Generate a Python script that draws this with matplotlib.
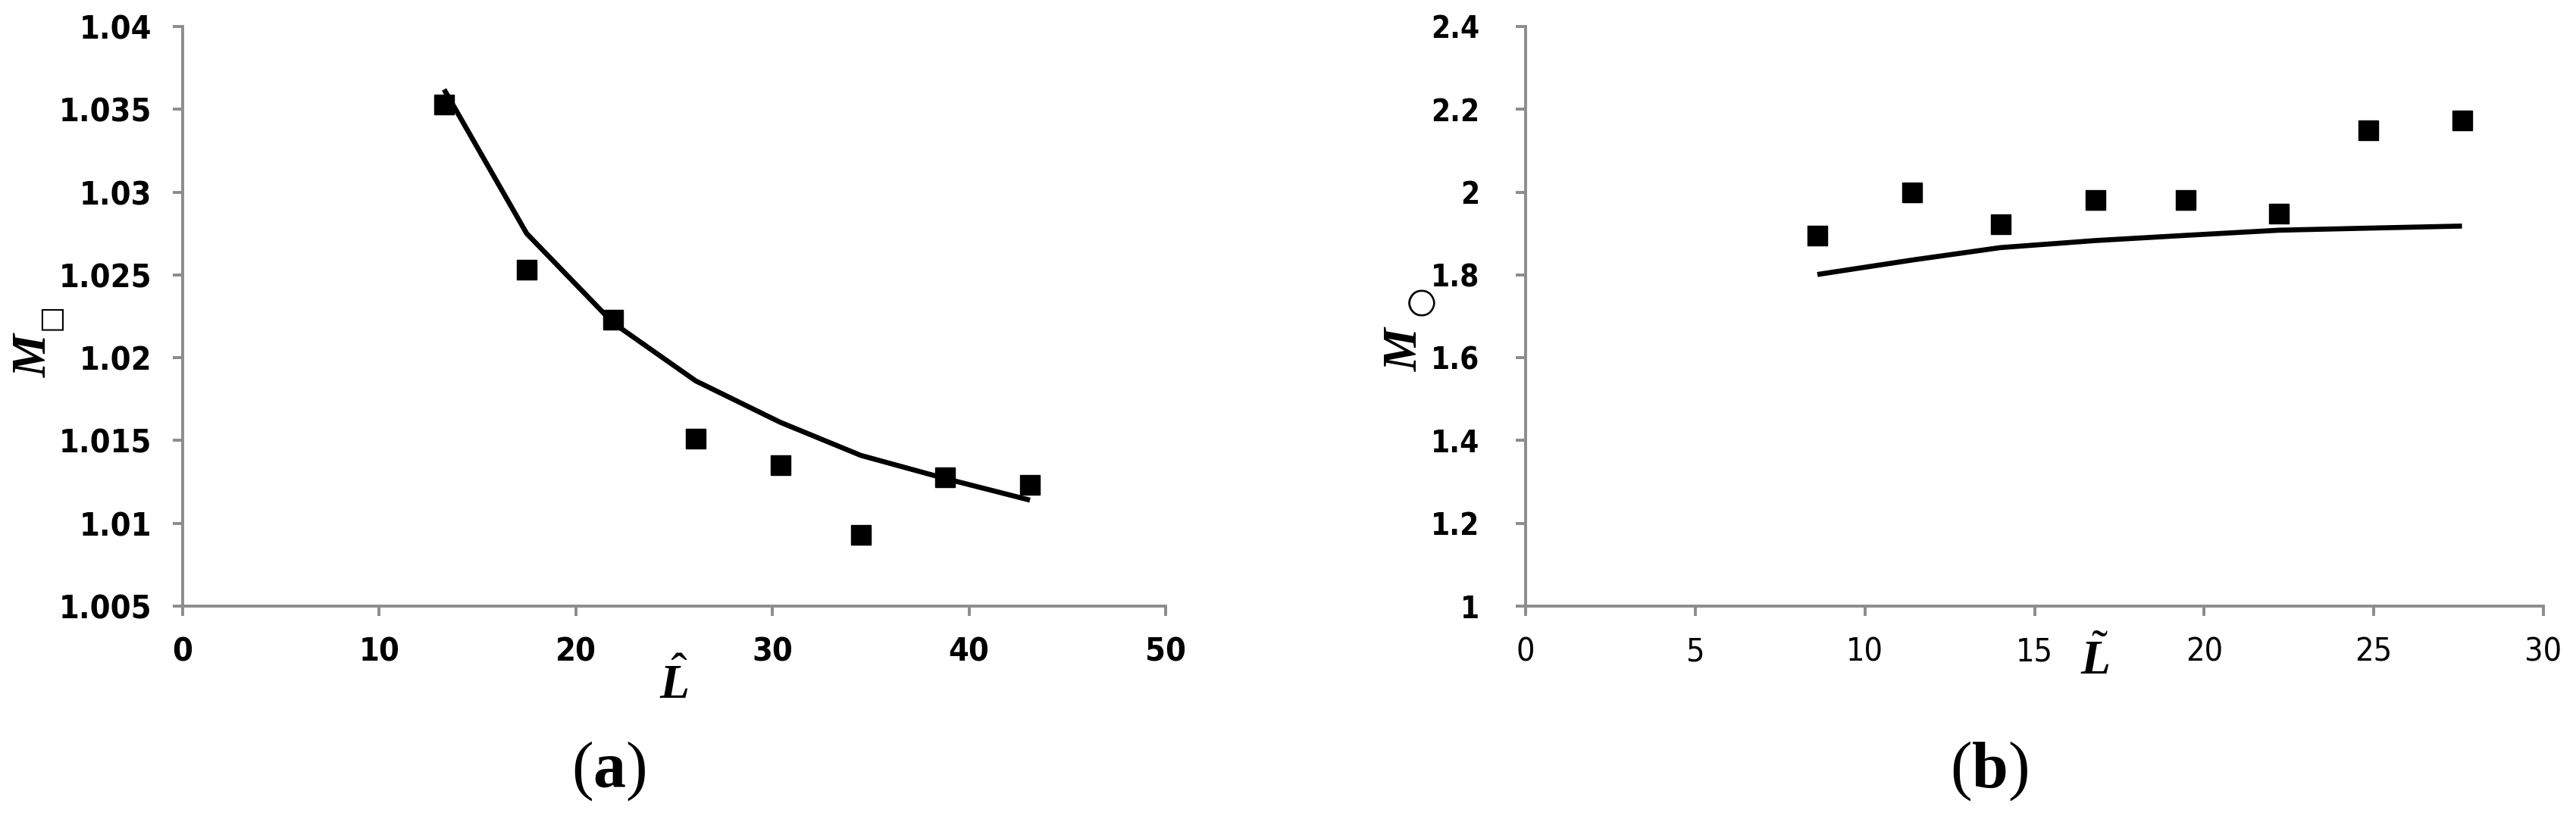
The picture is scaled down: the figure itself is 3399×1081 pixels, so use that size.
import matplotlib
matplotlib.use("Agg")
import matplotlib.pyplot as plt

# ---- data (a) ----
a_exp_x = [13.3, 17.5, 21.9, 26.1, 30.4, 34.5, 38.8, 43.1]
a_exp_y = [1.0353, 1.0253, 1.0223, 1.0151, 1.0135, 1.0093, 1.0128, 1.0123]
a_fit_x = [13.3, 17.5, 21.9, 26.1, 30.4, 34.5, 38.8, 43.1]
a_fit_y = [1.0362, 1.0275, 1.0221, 1.0186, 1.0161, 1.0141, 1.0127, 1.0114]
a_xticks = [0, 10, 20, 30, 40, 50]
a_yticks = [1.005, 1.01, 1.015, 1.02, 1.025, 1.03, 1.035, 1.04]
a_yticklabels = ["1.005", "1.01", "1.015", "1.02", "1.025", "1.03", "1.035", "1.04"]

# ---- data (b) ----
b_exp_x = [8.6, 11.4, 14.0, 16.8, 19.45, 22.2, 24.85, 27.6]
b_exp_y = [1.895, 2.0, 1.923, 1.981, 1.981, 1.948, 2.149, 2.173]
b_fit_x = [8.6, 11.4, 14.0, 16.8, 19.45, 22.2, 24.85, 27.6]
b_fit_y = [1.801, 1.836, 1.866, 1.883, 1.8955, 1.908, 1.913, 1.918]
b_xticks = [0, 5, 10, 15, 20, 25, 30]
b_yticks = [1.0, 1.2, 1.4, 1.6, 1.8, 2.0, 2.2, 2.4]
b_yticklabels = ["1", "1.2", "1.4", "1.6", "1.8", "2", "2.2", "2.4"]

plt.rcParams['mathtext.fontset'] = 'custom'
plt.rcParams['mathtext.it'] = 'Liberation Serif:italic:bold'
plt.rcParams['mathtext.rm'] = 'Liberation Serif'
plt.rcParams['mathtext.bf'] = 'Liberation Serif:bold'

W, H = 3399, 1081
fig = plt.figure(figsize=(W / 100, H / 100), dpi=100)
fig.patch.set_facecolor('white')

GRAY = '#8c8c8c'


def px(x, y):
    return x / W, 1 - y / H


def style(ax, xticks, yticks, yticklabels, xlim, ylim, xbold, ybold, ypad, ysize):
    for s in ['top', 'right']:
        ax.spines[s].set_visible(False)
    for s in ['left', 'bottom']:
        ax.spines[s].set_color(GRAY)
        ax.spines[s].set_linewidth(2.8)
    ax.set_xlim(*xlim)
    ax.set_ylim(*ylim)
    ax.set_xticks(xticks)
    ax.set_xticklabels([str(t) for t in xticks])
    ax.set_yticks(yticks)
    ax.set_yticklabels(yticklabels)
    ax.tick_params(axis='both', direction='out', length=9.5, width=2.8, color=GRAY,
                   labelsize=31)
    ax.tick_params(axis='x', pad=19)
    ax.tick_params(axis='y', pad=ypad, labelsize=ysize)
    for lab in ax.get_xticklabels():
        lab.set_family('DejaVu Sans')
        lab.set_stretch('condensed')
        lab.set_fontweight('bold' if xbold else 'normal')
    for lab in ax.get_yticklabels():
        lab.set_family('DejaVu Sans')
        lab.set_stretch('condensed')
        lab.set_fontweight('bold' if ybold else 'normal')


# ---- panel (a) ----
axa = fig.add_axes([241 / W, 1 - 800 / H, 1297 / W, 765 / H])
axa.plot(a_fit_x, a_fit_y, color='black', lw=4.8, solid_capstyle='butt', zorder=2)
axa.plot(a_exp_x, a_exp_y, ls='none', marker='s', ms=19, color='black', zorder=3)
style(axa, a_xticks, a_yticks, a_yticklabels, (0, 50), (1.005, 1.04), True, True, 20, 31)

# ---- panel (b) ----
axb = fig.add_axes([2013 / W, 1 - 800 / H, 1343 / W, 765 / H])
axb.plot(b_fit_x, b_fit_y, color='black', lw=4.8, solid_capstyle='butt', zorder=2)
axb.plot(b_exp_x, b_exp_y, ls='none', marker='s', ms=19, color='black', zorder=3)
style(axb, b_xticks, b_yticks, b_yticklabels, (0, 30), (1.0, 2.4), False, True, 34, 29)

# ---- axis labels ----
fig.text(*px(46, 470), 'M', family='Liberation Serif', style='italic', weight='bold',
         fontsize=46, rotation=90, ha='center', va='center')
fig.text(*px(67, 418), '\u25a1', family='DejaVu Sans', fontsize=27, rotation=90,
         ha='center', va='center')

fig.text(*px(1855, 462), 'M', family='Liberation Serif', style='italic', weight='bold',
         fontsize=46, rotation=90, ha='center', va='center')
fig.text(*px(1874, 397), '\u25cb', family='DejaVu Sans', fontsize=33, rotation=90,
         ha='center', va='center')

fig.text(*px(889, 903), r'$\hat{L}$', fontsize=46, ha='center', va='center')
fig.text(*px(2764, 872), r'$\tilde{L}$', fontsize=46, ha='center', va='center')

# ---- panel captions ----
fig.text(*px(803, 1018), r'$(\mathbf{a})$', fontsize=62, ha='center', va='center')
fig.text(*px(2625, 1018), r'$(\mathbf{b})$', fontsize=62, ha='center', va='center')

fig.savefig('out.png', dpi=100, facecolor='white')
